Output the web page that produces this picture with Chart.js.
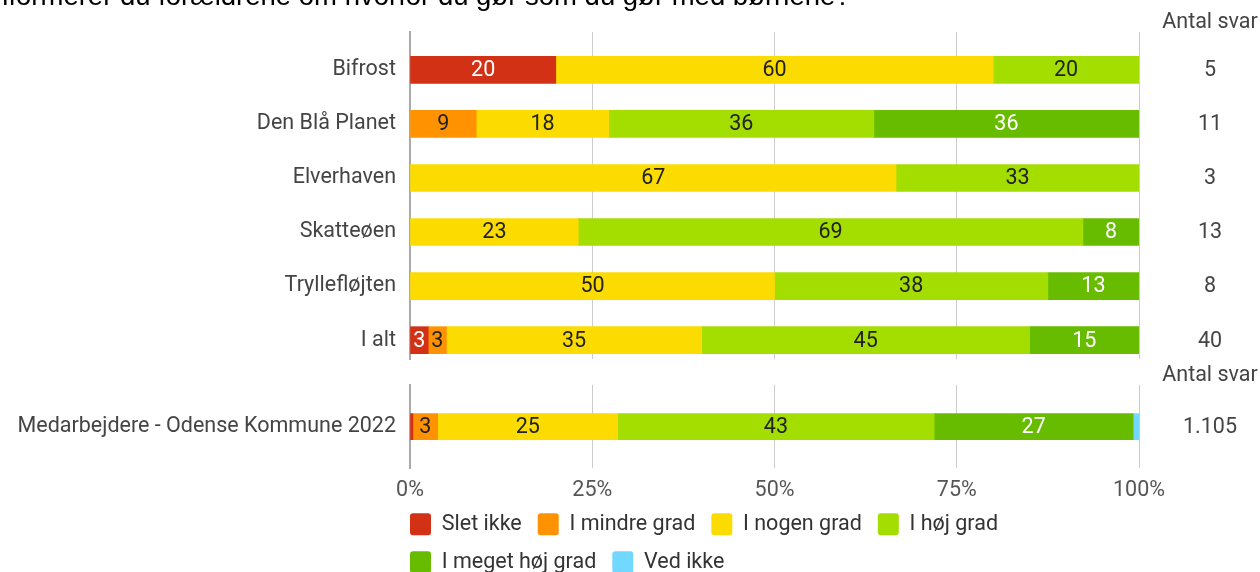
<!DOCTYPE html>
<html lang="da">
<head>
<meta charset="utf-8">
<title>Forældreinformation</title>
<script src="https://cdn.jsdelivr.net/npm/chart.js@4.4.1/dist/chart.umd.min.js"></script>
<style>
  html, body { margin: 0; padding: 0; background: #fff; overflow: hidden; }
  #wrap { position: relative; width: 1260px; height: 572px; overflow: hidden; }
  #topChart { position: absolute; left: 0; top: 0; }
  #bundChart { position: absolute; left: 0; top: 358px; }
</style>
</head>
<body>
<div id="wrap">
  <canvas id="topChart" width="1260" height="386"></canvas>
  <canvas id="bundChart" width="1260" height="247"></canvas>
</div>
<script>
var spoergsmaal = 'informerer du forældrene om hvorfor du gør som du gør med børnene?';

var institutioner = ['Bifrost', 'Den Blå Planet', 'Elverhaven', 'Skatteøen', 'Tryllefløjten', 'I alt'];
var antalSvar = [5, 11, 3, 13, 8, 40];

// andele i procent pr. svarkategori
var sletIkke       = [20, null, null, null, null, 2.5];
var iMindreGrad    = [null, 9.09, null, null, null, 2.5];
var iNogenGrad     = [60, 18.18, 66.67, 23.08, 50, 35];
var iHoejGrad      = [20, 36.36, 33.33, 69.23, 37.5, 45];
var iMegetHoejGrad = [null, 36.36, null, 7.69, 12.5, 15];
var vedIkke        = [null, null, null, null, null, null];

// sammenligning med kommunens medarbejdere
var sammenligning = ['Medarbejdere - Odense Kommune 2022'];
var sammenligningAntal = ['1.105'];
var medSletIkke = [0.4];
var medMindreGrad = [3.4];
var medNogenGrad = [24.7];
var medHoejGrad = [43.4];
var medMegetHoejGrad = [27.3];
var medVedIkke = [0.8];

var svarkategorier = ['Slet ikke', 'I mindre grad', 'I nogen grad', 'I høj grad', 'I meget høj grad', 'Ved ikke'];
var farver = ['#d33115', '#fe9200', '#fcdc00', '#a4dd00', '#68bc00', '#73d8ff'];
var tekstFarver = ['#ffffff', '#222222', '#222222', '#222222', '#ffffff', '#222222'];

var skrift = 21.5;
Chart.defaults.font.family = 'Roboto';
Chart.defaults.font.size = skrift;
Chart.defaults.color = '#444';

function lavDatasets(serier, tykkelse) {
    return serier.map(function (data, i) {
        return {
            label: svarkategorier[i],
            data: data,
            backgroundColor: farver[i],
            borderWidth: 0,
            barThickness: tykkelse
        };
    });
}

// tal midt i hvert bar-segment
var vaerdiLabels = {
    id: 'vaerdiLabels',
    afterDatasetsDraw: function (chart) {
        var ctx = chart.ctx;
        ctx.save();
        ctx.font = skrift + 'px Roboto';
        ctx.textAlign = 'center';
        ctx.textBaseline = 'middle';
        chart.data.datasets.forEach(function (ds, i) {
            chart.getDatasetMeta(i).data.forEach(function (bar, j) {
                var v = ds.data[j];
                if (v == null || v < 1.5) return;
                var p = bar.getProps(['x', 'y', 'base'], true);
                ctx.fillStyle = tekstFarver[i];
                ctx.fillText(Math.round(v), (p.x + p.base) / 2, p.y + 1);
            });
        });
        ctx.restore();
    }
};

// kolonnen "Antal svar" til højre for grafen
function antalKolonne(antal) {
    return {
        id: 'antalSvar',
        afterDraw: function (chart) {
            var ctx = chart.ctx;
            var y = chart.scales.y;
            ctx.save();
            ctx.font = skrift + 'px Roboto';
            ctx.fillStyle = '#444';
            ctx.textAlign = 'center';
            ctx.textBaseline = 'middle';
            ctx.fillText('Antal svar', 1210, chart.chartArea.top - 9);
            antal.forEach(function (n, i) {
                ctx.fillText(n, 1210, y.getPixelForValue(i) + 1);
            });
            ctx.restore();
        }
    };
}

var overskrift = {
    id: 'overskrift',
    afterDraw: function (chart) {
        var ctx = chart.ctx;
        ctx.save();
        ctx.font = '27.5px "Liberation Sans"';
        ctx.fillStyle = '#000';
        ctx.textBaseline = 'alphabetic';
        ctx.fillText(spoergsmaal, -13, 5);
        ctx.restore();
    }
};

new Chart(document.getElementById('topChart'), {
    type: 'bar',
    data: {
        labels: institutioner.map(function (n, i) { return i; }),
        datasets: lavDatasets([sletIkke, iMindreGrad, iNogenGrad, iHoejGrad, iMegetHoejGrad, vedIkke], 27)
    },
    options: {
        indexAxis: 'y',
        responsive: false,
        animation: false,
        layout: { padding: { top: 32, bottom: 13, right: 121, left: 0 } },
        plugins: {
            legend: { display: false },
            tooltip: { enabled: false }
        },
        scales: {
            x: {
                stacked: true,
                min: 0,
                max: 100,
                afterFit: function (s) { s.height = 0; },
                ticks: { display: false, stepSize: 25 },
                grid: { color: '#cccccc', drawTicks: false },
                border: { display: false }
            },
            y: {
                type: 'linear',
                stacked: true,
                reverse: true,
                offset: false,
                bounds: 'data',
                min: -0.7,
                max: 5.35,
                afterBuildTicks: function (s) {
                    s.ticks = institutioner.map(function (n, i) { return { value: i }; });
                },
                afterFit: function (s) { s.width = 410; },
                ticks: {
                    autoSkip: false,
                    padding: 14,
                    color: '#444',
                    callback: function (v) { return institutioner[v]; }
                },
                grid: { display: false, drawTicks: false },
                border: { color: '#aaaaaa', width: 2 }
            }
        }
    },
    plugins: [vaerdiLabels, antalKolonne(antalSvar), overskrift]
});

// legenden starter ud for grafens venstre kant, tæt under aksen
var legendePlacering = {
    id: 'legendePlacering',
    beforeDraw: function (chart) {
        chart.legend.left = chart.chartArea.left - chart.options.plugins.legend.labels.padding;
        chart.legend.top = chart.chartArea.bottom + 29;
    }
};

new Chart(document.getElementById('bundChart'), {
    type: 'bar',
    data: {
        labels: sammenligning,
        datasets: lavDatasets([medSletIkke, medMindreGrad, medNogenGrad, medHoejGrad, medMegetHoejGrad, medVedIkke], 26)
    },
    options: {
        indexAxis: 'y',
        responsive: false,
        animation: false,
        layout: { padding: { top: 23, bottom: 5, right: 121, left: 0 } },
        plugins: {
            legend: {
                position: 'bottom',
                align: 'start',
                fullSize: false,
                labels: {
                    boxWidth: 21,
                    boxHeight: 22,
                    useBorderRadius: true,
                    borderRadius: 3,
                    padding: 16,
                    color: '#333'
                }
            },
            tooltip: { enabled: false }
        },
        scales: {
            x: {
                stacked: true,
                min: 0,
                max: 100,
                ticks: {
                    stepSize: 25,
                    padding: 10,
                    color: '#555',
                    callback: function (v) { return v + '%'; }
                },
                grid: { color: '#cccccc', drawTicks: false },
                border: { display: false }
            },
            y: {
                stacked: true,
                afterFit: function (s) { s.width = 410; },
                ticks: { padding: 14, color: '#444' },
                grid: { display: false, drawTicks: false },
                border: { color: '#aaaaaa', width: 2 }
            }
        }
    },
    plugins: [vaerdiLabels, antalKolonne(sammenligningAntal), legendePlacering]
});
</script>
</body>
</html>
